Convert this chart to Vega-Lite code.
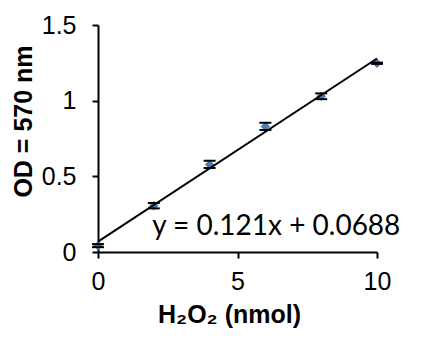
{
  "$schema": "https://vega.github.io/schema/vega-lite/v6.json",
  "autosize": "none",
  "width": 279,
  "height": 227,
  "padding": {"left": 98, "top": 25, "right": 55, "bottom": 101},
  "background": "white",
  "view": {"stroke": null},
  "datasets": {
    "pts": [
      {"nmol": 0, "od": 0.042, "lo": 0.032, "hi": 0.052},
      {"nmol": 2, "od": 0.306, "lo": 0.288, "hi": 0.324},
      {"nmol": 4, "od": 0.579, "lo": 0.555, "hi": 0.603},
      {"nmol": 6, "od": 0.830, "lo": 0.806, "hi": 0.854},
      {"nmol": 8, "od": 1.029, "lo": 1.010, "hi": 1.048},
      {"nmol": 10, "od": 1.247, "lo": 1.243, "hi": 1.251}
    ],
    "trend": [
      {"nmol": 0, "od": 0.0688},
      {"nmol": 10, "od": 1.2788}
    ],
    "eq": [
      {"nmol": 1.94, "od": 0.112, "label": "y = 0.121x + 0.0688"}
    ]
  },
  "config": {
    "axis": {
      "grid": false,
      "domainColor": "black",
      "domainWidth": 2,
      "tickColor": "black",
      "tickWidth": 2,
      "tickSize": 6,
      "labelFlush": false,
      "labelFont": "Liberation Sans",
      "labelFontSize": 25,
      "labelColor": "black",
      "titleFont": "Liberation Sans",
      "titleFontSize": 25,
      "titleFontWeight": "bold",
      "titleColor": "black"
    }
  },
  "layer": [
    {
      "data": {"name": "pts"},
      "mark": {"type": "rule", "color": "black", "strokeWidth": 2},
      "encoding": {
        "x": {
          "field": "nmol", "type": "quantitative",
          "scale": {"domain": [0, 10], "nice": false},
          "axis": {"values": [0, 5, 10], "labelPadding": 11, "title": "H₂O₂ (nmol)", "titleX": 131, "titleY": 70, "titleBaseline": "alphabetic"}
        },
        "y": {
          "field": "lo", "type": "quantitative",
          "scale": {"domain": [0, 1.5], "nice": false},
          "axis": {"values": [0, 0.5, 1, 1.5], "labelExpr": "'' + datum.value", "labelPadding": 16, "title": "OD = 570 nm", "titleX": -67, "titleY": 96, "titleBaseline": "alphabetic"}
        },
        "y2": {"field": "hi"}
      }
    },
    {
      "data": {"name": "pts"},
      "mark": {"type": "point", "shape": "diamond", "filled": true, "color": "#4A7EBB", "size": 90, "opacity": 1},
      "encoding": {
        "x": {"field": "nmol", "type": "quantitative"},
        "y": {"field": "od", "type": "quantitative"}
      }
    },
    {
      "data": {"name": "pts"},
      "mark": {"type": "tick", "orient": "horizontal", "color": "black", "size": 12, "thickness": 2, "opacity": 1},
      "encoding": {
        "x": {"field": "nmol", "type": "quantitative"},
        "y": {"field": "lo", "type": "quantitative"}
      }
    },
    {
      "data": {"name": "pts"},
      "mark": {"type": "tick", "orient": "horizontal", "color": "black", "size": 12, "thickness": 2, "opacity": 1},
      "encoding": {
        "x": {"field": "nmol", "type": "quantitative"},
        "y": {"field": "hi", "type": "quantitative"}
      }
    },
    {
      "data": {"name": "trend"},
      "mark": {"type": "line", "color": "black", "strokeWidth": 2},
      "encoding": {
        "x": {"field": "nmol", "type": "quantitative"},
        "y": {"field": "od", "type": "quantitative"}
      }
    },
    {
      "data": {"name": "eq"},
      "mark": {"type": "text", "align": "left", "baseline": "alphabetic", "font": "Lato", "fontSize": 28, "color": "black"},
      "encoding": {
        "x": {"field": "nmol", "type": "quantitative"},
        "y": {"field": "od", "type": "quantitative"},
        "text": {"field": "label"}
      }
    }
  ]
}
